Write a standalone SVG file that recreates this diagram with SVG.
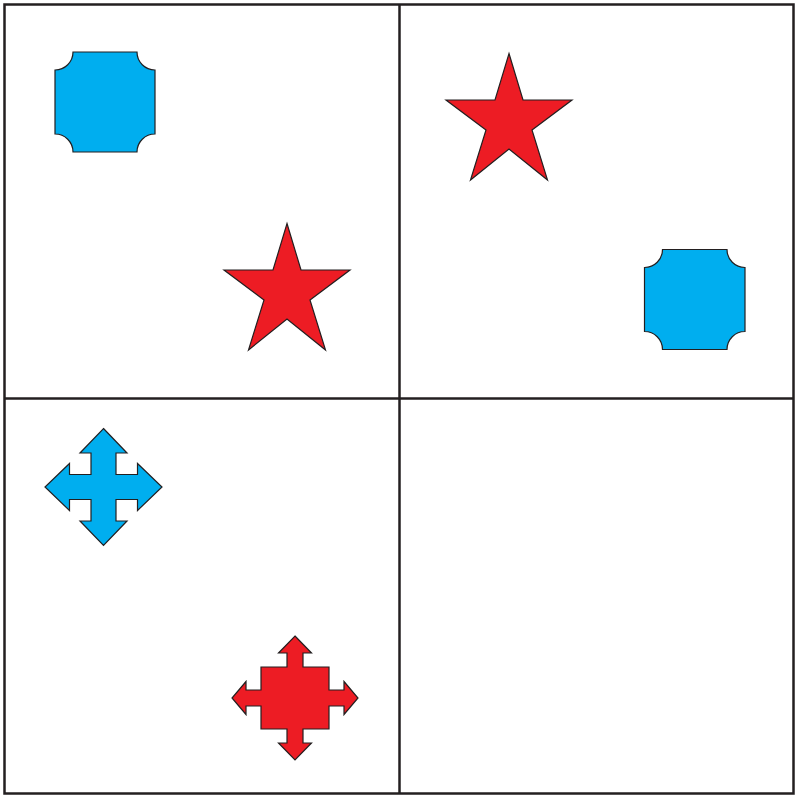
<svg xmlns="http://www.w3.org/2000/svg" width="795" height="795" viewBox="0 0 795 795">
<defs>
<style>
.grid{fill:none;stroke:#231f20;stroke-width:2.5}
.blue{fill:#00aeef;stroke:#231f20;stroke-width:1.2;stroke-linejoin:miter}
.red{fill:#ed1c24;stroke:#231f20;stroke-width:1.2;stroke-linejoin:miter}
</style>
<path id="star" d="M0,0 L63,46.5 L14,46.5 L23,76.5 L38.5,126.5 L0,95.5 L-38.5,126.5 L-23,76.5 L-14,46.5 L-63,46.5 Z"/>
</defs>
<rect width="795" height="795" fill="#fff"/>
<g id="grid">
<rect class="grid" x="4.5" y="4.5" width="789" height="789"/>
<line class="grid" x1="399.5" y1="4.5" x2="399.5" y2="793.5"/>
<line class="grid" x1="4.5" y1="398.5" x2="793.5" y2="398.5"/>
</g>
<g id="blue-square-1">
<path class="blue" d="M73,52 H137 A18,18 0 0 0 155,70 V134 A18,18 0 0 0 137,152 H73 A18,18 0 0 0 55,134 V70 A18,18 0 0 0 73,52 Z"/>
</g>
<g id="red-star-1">
<path class="red" d="M287,223.5 L301,270 L350,270 L310,300 L325.5,350 L287,319 L248.5,350 L264,300 L224,270 L273,270 Z"/>
</g>
<g id="red-star-2">
<path class="red" d="M509,53.5 L523,100 L572,100 L532,130 L547.5,180 L509,149 L470.5,180 L486,130 L446,100 L495,100 Z"/>
</g>
<g id="blue-square-2">
<path class="blue" d="M662.5,249.5 H727 A18,18 0 0 0 745,267.5 V331.5 A18,18 0 0 0 727,349.5 H662.5 A18,18 0 0 0 644.5,331.5 V267.5 A18,18 0 0 0 662.5,249.5 Z"/>
</g>
<g id="blue-arrows">
<path class="blue" transform="translate(103.5,487)" d="M0,-58.5 L23.5,-34 L12.5,-34 L12.5,-12.5 L34,-12.5 L34,-23.5 L58.5,0 L34,23.5 L34,12.5 L12.5,12.5 L12.5,34 L23.5,34 L0,58.5 L-23.5,34 L-12.5,34 L-12.5,12.5 L-34,12.5 L-34,23.5 L-58.5,0 L-34,-23.5 L-34,-12.5 L-12.5,-12.5 L-12.5,-34 L-23.5,-34 Z"/>
</g>
<g id="red-arrows">
<path class="red" transform="translate(295,698)" d="M0,-62 L16.5,-45 L8,-45 L8,-31 L34,-31 L34,-8 L49,-8 L49,-16.5 L63,0 L49,16.5 L49,8 L34,8 L34,31 L8,31 L8,45 L16.5,45 L0,62 L-16.5,45 L-8,45 L-8,31 L-34,31 L-34,8 L-49,8 L-49,16.5 L-63,0 L-49,-16.5 L-49,-8 L-34,-8 L-34,-31 L-8,-31 L-8,-45 L-16.5,-45 Z"/>
</g>
</svg>
